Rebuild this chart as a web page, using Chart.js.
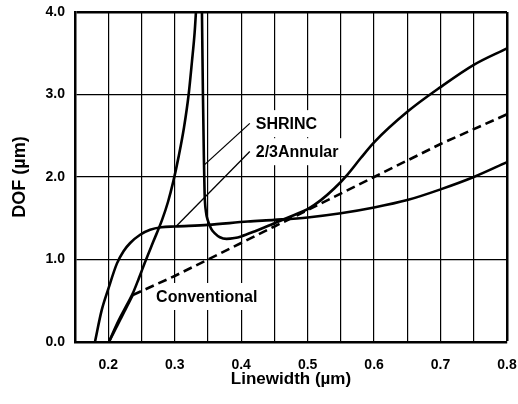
<!DOCTYPE html>
<html><head><meta charset="utf-8">
<script src="https://cdn.jsdelivr.net/npm/chart.js@4/dist/chart.umd.min.js"></script>
<style>html,body{margin:0;padding:0;background:#fff}#wrap{width:518px;height:404px}</style>
</head><body><div id="wrap"><canvas id="c" width="518" height="404"></canvas></div>
<script>
// ---- data ----
const shrincX = [0.201,0.215,0.228,0.237,0.246,0.255,0.268,0.281,0.290,0.298,0.306,0.314,0.321,0.326,0.330,0.332,
                 0.336,
                 0.341,0.3425,0.344,0.345,0.347,0.350,0.355,0.360,0.368,0.378,0.390,0.400,0.420,0.450,0.480,0.500,0.520,0.540,0.560,0.580,0.600,0.650,0.700,0.750,0.800];
const shrincY = [0,0.25,0.45,0.59,0.77,0.96,1.22,1.48,1.70,1.95,2.25,2.6,3.0,3.4,3.75,4.0,
                 null,
                 4.0,3.0,2.2,1.8,1.58,1.47,1.37,1.32,1.27,1.25,1.26,1.28,1.34,1.44,1.54,1.61,1.72,1.86,2.03,2.23,2.42,2.79,3.09,3.36,3.56];
const annularX = [0.180,0.190,0.200,0.213,0.223,0.233,0.248,0.263,0.280,0.300,0.350,0.410,0.450,0.500,0.550,0.600,0.650,0.700,0.750,0.800];
const annularY = [0,0.38,0.64,0.95,1.10,1.20,1.30,1.36,1.39,1.40,1.42,1.46,1.48,1.51,1.56,1.63,1.72,1.85,2.0,2.18];
const convX = [0.201,0.237,0.300,0.350,0.400,0.450,0.500,0.600,0.700,0.800];
const convY = [0,0.57,0.80,1.0,1.2,1.4,1.6,2.0,2.4,2.76];
const xTickValues = [0.2,0.3,0.4,0.5,0.6,0.7,0.8];
const yTickValues = [0,1,2,3,4];
// curve labels and their leader lines (data coordinates)
const labelText = ['SHRINC','2/3Annular','Conventional'];
const labelX = [0.422,0.422,0.272];
const labelY = [2.58,2.24,0.485];
const leaderShrincX = [0.345,0.413], leaderShrincY = [2.15,2.65];
const leaderAnnularX = [0.303,0.413], leaderAnnularY = [1.41,2.31];

const zip = (xs, ys) => xs.map((x,i) => ({x, y: ys[i]}));
const FONT = '"Liberation Sans", Arial, Helvetica, sans-serif';

const labelPlugin = {
  id: 'curveLabels',
  beforeDatasetsDraw(chart) {
    const {ctx, scales:{x, y}} = chart;
    ctx.save();
    ctx.font = 'bold 16px ' + FONT;
    labelText.forEach((t, i) => {
      const px = x.getPixelForValue(labelX[i]), py = y.getPixelForValue(labelY[i]);
      const w = ctx.measureText(t).width;
      ctx.fillStyle = '#fff';
      ctx.fillRect(px - 5, py - 19, w + 10, 27);
    });
    ctx.restore();
  },
  afterDatasetsDraw(chart) {
    const {ctx, scales:{x, y}} = chart;
    ctx.save();
    ctx.font = 'bold 16px ' + FONT;
    ctx.fillStyle = '#000';
    ctx.textBaseline = 'alphabetic';
    ctx.textAlign = 'left';
    labelText.forEach((t, i) => {
      ctx.fillText(t, x.getPixelForValue(labelX[i]), y.getPixelForValue(labelY[i]));
    });
    ctx.restore();
  }
};

const base = {showLine:true, borderColor:'#000', backgroundColor:'#000', pointRadius:0, fill:false};

new Chart(document.getElementById('c'), {
  type: 'scatter',
  data: { datasets: [
    {...base, label:'SHRINC', data: zip(shrincX, shrincY), borderWidth:2.6, cubicInterpolationMode:'monotone', spanGaps:false},
    {...base, label:'2/3Annular', data: zip(annularX, annularY), borderWidth:2.6, cubicInterpolationMode:'monotone'},
    {...base, label:'Conventional', data: zip(convX, convY), borderWidth:2.6,
      segment:{borderDash: c => c.p0DataIndex === 0 ? [] : [9,5]}},
    {...base, label:'leader SHRINC', data: zip(leaderShrincX, leaderShrincY), borderWidth:1.3},
    {...base, label:'leader 2/3Annular', data: zip(leaderAnnularX, leaderAnnularY), borderWidth:1.3}
  ]},
  options: {
    animation:false, responsive:false, maintainAspectRatio:false,
    layout:{padding:{left:0, right:11, top:12, bottom:0}},
    plugins:{legend:{display:false}, tooltip:{enabled:false}},
    scales:{
      x:{
        type:'linear', min:0.15, max:0.8,
        afterFit(s){ s.height = 62; s.paddingLeft = 0; s.paddingRight = 0; },
        ticks:{stepSize:0.05, autoSkip:false, maxRotation:0, color:'#000', padding:15,
          font:{family:FONT, size:14, weight:'bold'},
          callback: v => xTickValues.some(t => Math.abs(t - v) < 1e-6) ? v.toFixed(1) : ''},
        grid:{color:'#000', drawTicks:false, lineWidth: c => (c.tick && Math.abs(c.tick.value-0.8)<1e-6) ? 2.5 : 1.2},
        border:{color:'#000', width:2.5},
        title:{display:true, text:'Linewidth (µm)', color:'#000', font:{family:FONT, size:17, weight:'bold'}, padding:{top:0, bottom:14}}
      },
      y:{
        type:'linear', min:0, max:4,
        afterFit(s){ s.width = 75; s.paddingTop = 0; s.paddingBottom = 0; },
        ticks:{stepSize:1, color:'#000', padding:10,
          font:{family:FONT, size:14, weight:'bold'},
          callback: v => yTickValues.includes(v) ? v.toFixed(1) : ''},
        grid:{color:'#000', drawTicks:false, lineWidth: c => (c.tick && c.tick.value === 4) ? 2.5 : 1.2},
        border:{color:'#000', width:2.5},
        title:{display:true, text:'DOF (µm)', color:'#000', font:{family:FONT, size:18, weight:'bold'}, padding:{top:9, bottom:0}}
      }
    }
  },
  plugins:[labelPlugin]
});
</script>
</body></html>
